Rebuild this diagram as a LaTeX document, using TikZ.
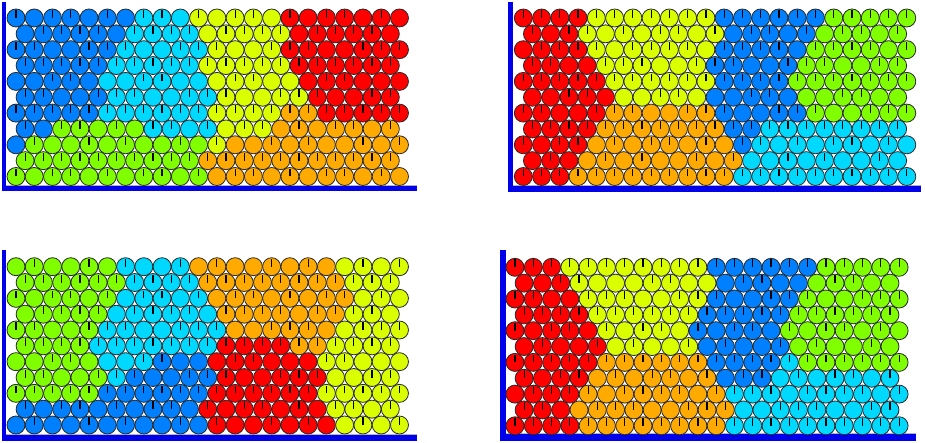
\documentclass[tikz,border=0pt]{standalone}
\definecolor{cB}{RGB}{0,128,255}
\definecolor{cC}{RGB}{0,217,255}
\definecolor{cY}{RGB}{217,255,0}
\definecolor{cG}{RGB}{128,255,0}
\definecolor{cO}{RGB}{255,170,0}
\definecolor{cR}{RGB}{255,0,0}
\definecolor{barblue}{RGB}{0,0,235}
\definecolor{rim}{RGB}{40,40,40}
\tikzset{
  ballst/.style={draw=rim, line width=0.8pt},
  tickst/.style={draw=black, line width=1.2pt},
  barst/.style={fill=barblue, draw=none},
  edgest/.style={draw=gray!60, line width=0.6pt}
}
\newcommand\ballrow[6]{%
  \gdef\colidx{0}%
  \foreach \bc/\bn in {#6}{%
    \foreach \bk in {1,...,\bn}{%
      \pgfmathsetmacro\bX{#1+#3*\colidx}%
      \filldraw[ballst, fill=c\bc] (\bX,#2) circle[radius=9pt];
      \pgfmathtruncatemacro\bT{mod(\colidx*\colidx*3+\colidx*5+#4*7+#5,10)}%
      \ifnum\bT<7 \draw[tickst] (\bX,#2) -- ++(0,-7.8);\fi
      \pgfmathtruncatemacro\bNext{\colidx+1}%
      \xdef\colidx{\bNext}%
    }%
  }%
}
\newcommand\prow[2]{%
  \pgfmathsetmacro\bRx{\pxe+mod(#1,2)*\pdx/2}%
  \pgfmathsetmacro\bRy{\pyo+#1*\pdy}%
  \ballrow{\bRx}{\bRy}{\pdx}{#1}{\pseed}{#2}}
\begin{document}
\begin{tikzpicture}[x=1pt,y=-1pt]
\useasboundingbox (0,0) rectangle (925,443);
% ---------- panel 1 ----------
\fill[barst] (2,2) rectangle (6,191.5);
\fill[barst] (2,186) rectangle (417,191.5);
\draw[edgest] (6,185.6) -- (417,185.6);
\def\pxe{16}\def\pyo{18}\def\pdx{18.26}\def\pdy{15.85}\def\pseed{1}
\prow{0}{B/7,C/3,Y/5,R/7}
\prow{1}{B/6,C/4,Y/5,R/6}
\prow{2}{B/6,C/5,Y/4,R/7}
\prow{3}{B/5,C/5,Y/5,R/6}
\prow{4}{B/5,C/6,Y/5,R/6}
\prow{5}{B/5,C/6,Y/5,R/5}
\prow{6}{B/5,C/6,Y/4,O/2,R/5}
\prow{7}{B/2,G/5,C/4,Y/3,O/7}
\prow{8}{B/1,G/10,Y/1,O/10}
\prow{9}{G/10,O/11}
\prow{10}{G/11,O/11}
% ---------- panel 2 ----------
\fill[barst] (508,2) rectangle (513,192);
\fill[barst] (508,186) rectangle (921,192);
\draw[edgest] (513,185.6) -- (921,185.6);
\def\pxe{523.3}\def\pyo{18}\def\pdx{18.26}\def\pdy{15.85}\def\pseed{4}
\prow{0}{R/4,Y/7,B/6,G/5}
\prow{1}{R/3,Y/8,B/5,G/5}
\prow{2}{R/4,Y/7,B/5,G/6}
\prow{3}{R/4,Y/6,B/5,G/6}
\prow{4}{R/5,Y/6,B/4,G/7}
\prow{5}{R/5,Y/5,B/5,G/6}
\prow{6}{R/5,O/6,B/5,G/6}
\prow{7}{R/4,O/7,B/2,C/8}
\prow{8}{R/4,O/8,B/1,C/9}
\prow{9}{R/3,O/9,C/9}
\prow{10}{R/3,O/9,C/10}
% ---------- panel 3 ----------
\fill[barst] (2,250) rectangle (6,440.5);
\fill[barst] (2,434.5) rectangle (417,440.5);
\draw[edgest] (6,434) -- (417,434);
\def\pxe{16}\def\pyo{266.7}\def\pdx{18.26}\def\pdy{15.83}\def\pseed{7}
\prow{0}{G/6,C/4,O/8,Y/4}
\prow{1}{G/6,C/4,O/8,Y/3}
\prow{2}{G/6,C/5,O/8,Y/3}
\prow{3}{G/5,C/6,O/7,Y/3}
\prow{4}{G/5,C/7,O/6,Y/4}
\prow{5}{G/4,C/7,R/4,O/2,Y/4}
\prow{6}{G/5,C/3,B/3,R/6,Y/5}
\prow{7}{G/5,C/1,B/5,R/6,Y/4}
\prow{8}{G/5,B/6,R/6,Y/5}
\prow{9}{B/10,R/7,Y/4}
\prow{10}{B/11,R/7,Y/4}
% ---------- panel 4 ----------
\fill[barst] (500,250) rectangle (505.7,440.5);
\fill[barst] (500,434) rectangle (916,440.5);
\draw[edgest] (505.7,433.6) -- (916,433.6);
\def\pxe{515}\def\pyo{267.3}\def\pdx{18.29}\def\pdy{15.85}\def\pseed{2}
\prow{0}{R/3,Y/8,B/6,G/5}
\prow{1}{R/3,Y/8,B/5,G/5}
\prow{2}{R/4,Y/7,B/5,G/6}
\prow{3}{R/4,Y/6,B/5,G/6}
\prow{4}{R/5,Y/5,B/5,G/7}
\prow{5}{R/5,Y/5,B/5,G/6}
\prow{6}{R/5,O/6,B/4,C/1,G/6}
\prow{7}{R/4,O/7,B/3,C/7}
\prow{8}{R/4,O/8,C/10}
\prow{9}{R/3,O/9,C/9}
\prow{10}{R/4,O/8,C/10}
\end{tikzpicture}
\end{document}
